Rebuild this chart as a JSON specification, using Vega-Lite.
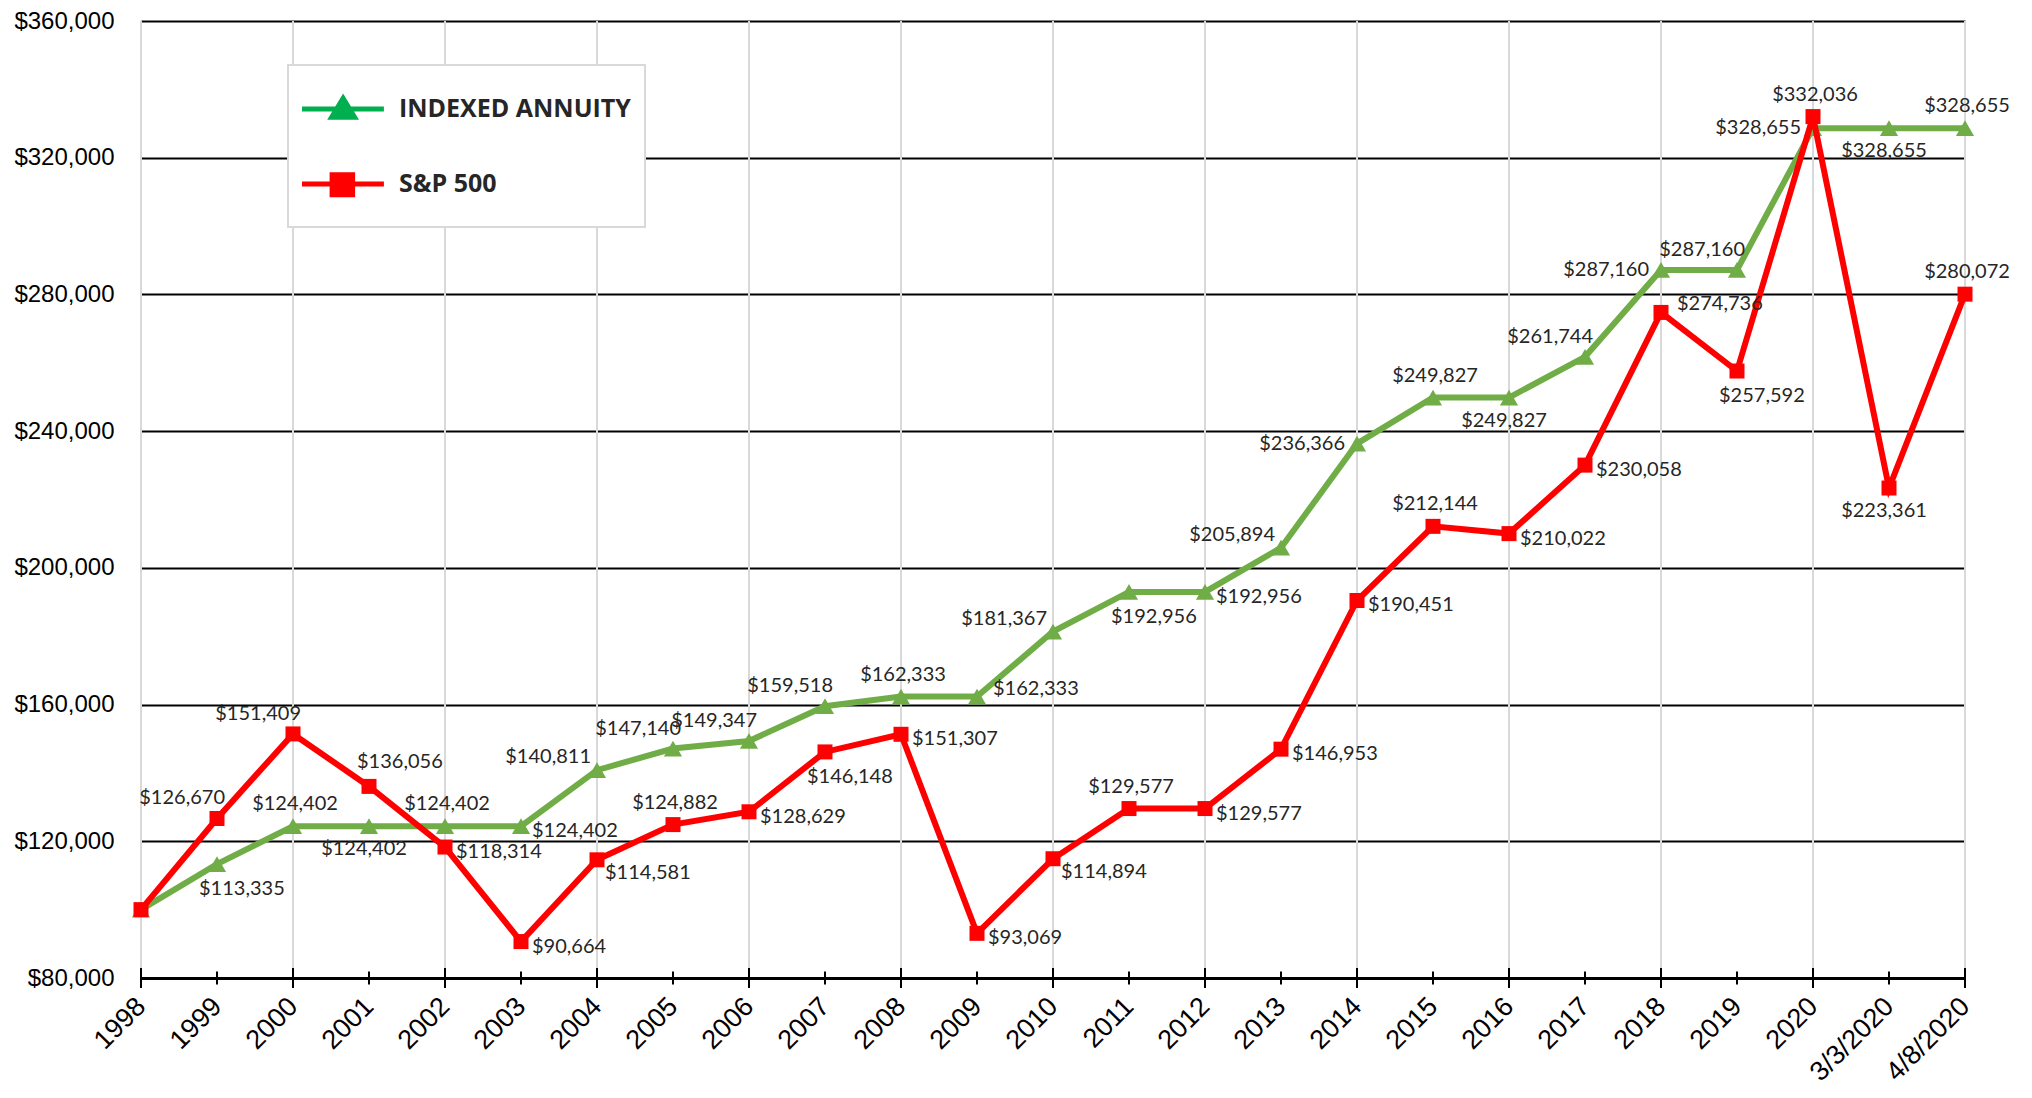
{
  "$schema": "https://vega.github.io/schema/vega-lite/v6.json",
  "width": 1824,
  "height": 957,
  "autosize": {"type": "none"},
  "padding": {"left": 141, "top": 21, "right": 67, "bottom": 120},
  "background": "white",
  "config": {"view": {"stroke": null}},
  "datasets": {
    "d": [
      {"period": "1998", "series": "INDEXED ANNUITY", "value": 100000},
      {"period": "1999", "series": "INDEXED ANNUITY", "value": 113335},
      {"period": "2000", "series": "INDEXED ANNUITY", "value": 124402},
      {"period": "2001", "series": "INDEXED ANNUITY", "value": 124402},
      {"period": "2002", "series": "INDEXED ANNUITY", "value": 124402},
      {"period": "2003", "series": "INDEXED ANNUITY", "value": 124402},
      {"period": "2004", "series": "INDEXED ANNUITY", "value": 140811},
      {"period": "2005", "series": "INDEXED ANNUITY", "value": 147140},
      {"period": "2006", "series": "INDEXED ANNUITY", "value": 149347},
      {"period": "2007", "series": "INDEXED ANNUITY", "value": 159518},
      {"period": "2008", "series": "INDEXED ANNUITY", "value": 162333},
      {"period": "2009", "series": "INDEXED ANNUITY", "value": 162333},
      {"period": "2010", "series": "INDEXED ANNUITY", "value": 181367},
      {"period": "2011", "series": "INDEXED ANNUITY", "value": 192956},
      {"period": "2012", "series": "INDEXED ANNUITY", "value": 192956},
      {"period": "2013", "series": "INDEXED ANNUITY", "value": 205894},
      {"period": "2014", "series": "INDEXED ANNUITY", "value": 236366},
      {"period": "2015", "series": "INDEXED ANNUITY", "value": 249827},
      {"period": "2016", "series": "INDEXED ANNUITY", "value": 249827},
      {"period": "2017", "series": "INDEXED ANNUITY", "value": 261744},
      {"period": "2018", "series": "INDEXED ANNUITY", "value": 287160},
      {"period": "2019", "series": "INDEXED ANNUITY", "value": 287160},
      {"period": "2020", "series": "INDEXED ANNUITY", "value": 328655},
      {"period": "3/3/2020", "series": "INDEXED ANNUITY", "value": 328655},
      {"period": "4/8/2020", "series": "INDEXED ANNUITY", "value": 328655},
      {"period": "1998", "series": "S&P 500", "value": 100000},
      {"period": "1999", "series": "S&P 500", "value": 126670},
      {"period": "2000", "series": "S&P 500", "value": 151409},
      {"period": "2001", "series": "S&P 500", "value": 136056},
      {"period": "2002", "series": "S&P 500", "value": 118314},
      {"period": "2003", "series": "S&P 500", "value": 90664},
      {"period": "2004", "series": "S&P 500", "value": 114581},
      {"period": "2005", "series": "S&P 500", "value": 124882},
      {"period": "2006", "series": "S&P 500", "value": 128629},
      {"period": "2007", "series": "S&P 500", "value": 146148},
      {"period": "2008", "series": "S&P 500", "value": 151307},
      {"period": "2009", "series": "S&P 500", "value": 93069},
      {"period": "2010", "series": "S&P 500", "value": 114894},
      {"period": "2011", "series": "S&P 500", "value": 129577},
      {"period": "2012", "series": "S&P 500", "value": 129577},
      {"period": "2013", "series": "S&P 500", "value": 146953},
      {"period": "2014", "series": "S&P 500", "value": 190451},
      {"period": "2015", "series": "S&P 500", "value": 212144},
      {"period": "2016", "series": "S&P 500", "value": 210022},
      {"period": "2017", "series": "S&P 500", "value": 230058},
      {"period": "2018", "series": "S&P 500", "value": 274736},
      {"period": "2019", "series": "S&P 500", "value": 257592},
      {"period": "2020", "series": "S&P 500", "value": 332036},
      {"period": "3/3/2020", "series": "S&P 500", "value": 223361},
      {"period": "4/8/2020", "series": "S&P 500", "value": 280072}
    ]
  },
  "data": {"name": "d"},
  "encoding": {
    "x": {
      "field": "period",
      "type": "ordinal",
      "scale": {"type": "point", "padding": 0, "domain": ["1998","1999","2000","2001","2002","2003","2004","2005","2006","2007","2008","2009","2010","2011","2012","2013","2014","2015","2016","2017","2018","2019","2020","3/3/2020","4/8/2020"]},
      "axis": {
        "title": null,
        "domain": true,
        "domainColor": "#000000",
        "domainWidth": 3,
        "ticks": false,
        "tickSize": 0,
        "labelAngle": -45,
        "labelAlign": "right",
        "labelBaseline": "middle",
        "labelPadding": 24,
        "labelFont": "Liberation Sans",
        "labelFontSize": 27,
        "labelColor": "#000000",
        "grid": false,
        "zindex": 1
      }
    },
    "y": {
      "field": "value",
      "type": "quantitative",
      "scale": {"domain": [80000, 360000], "nice": false, "zero": false},
      "axis": {
        "title": null,
        "values": [80000, 120000, 160000, 200000, 240000, 280000, 320000, 360000],
        "format": "$,.0f",
        "domain": false,
        "ticks": false,
        "labelPadding": 27,
        "labelFont": "Liberation Sans",
        "labelFontSize": 24,
        "labelColor": "#000000",
        "grid": true,
        "gridColor": "#000000",
        "gridWidth": 2,
        "zindex": 0
      }
    }
  },
  "layer": [
    {
      "transform": [{"filter": "datum.series === 'S&P 500' && indexof(['1998','2000','2002','2004','2006','2008','2010','2012','2014','2016','2018','2020','4/8/2020'], datum.period) >= 0"}],
      "mark": {"type": "rule", "color": "#d9d9d9", "strokeWidth": 2},
      "encoding": {"y": null}
    },
    {
      "transform": [{"filter": "datum.series === 'S&P 500'"}],
      "mark": {"type": "tick", "orient": "vertical", "color": "#000000", "thickness": 2, "opacity": 1},
      "encoding": {
        "y": {"datum": 80000},
        "size": {
          "condition": {"test": "indexof(['1998','2000','2002','2004','2006','2008','2010','2012','2014','2016','2018','2020','4/8/2020'], datum.period) >= 0", "value": 20},
          "value": 13
        }
      }
    },
    {
      "transform": [{"filter": "datum.series === 'INDEXED ANNUITY'"}],
      "mark": {"type": "line", "strokeWidth": 6},
      "encoding": {
        "color": {
          "field": "series",
          "type": "nominal",
          "scale": {"domain": ["INDEXED ANNUITY", "S&P 500"], "range": ["#70AD47", "#FF0000"]},
          "legend": {
            "title": " ",
            "titleOrient": "bottom",
            "titleFontSize": 16,
            "titlePadding": 0,
            "orient": "none",
            "legendX": 147,
            "legendY": 44,
            "padding": 14,
            "rowPadding": 32,
            "symbolSize": 3600,
            "symbolStrokeWidth": 0,
            "labelOffset": 37,
            "labelFont": "Open Sans",
            "labelFontWeight": "bold",
            "labelFontSize": 25,
            "labelColor": "#262626",
            "labelLimit": 500,
            "strokeColor": "#d9d9d9",
            "fillColor": "white",
            "encode": {
              "legend": {"update": {"strokeWidth": {"value": 2}}},
              "symbols": {
                "update": {
                  "shape": {"signal": "datum.value === 'S&P 500' ? 'M-1,-0.083H1.73V0.083H-1Z M-0.08,-0.39H0.77V0.44H-0.08Z' : 'M-1,-0.083H1.73V0.083H-1Z M-0.16,0.36L0.37,-0.52L0.9,0.36Z'"},
                  "fill": {"signal": "datum.value === 'S&P 500' ? '#FF0000' : '#00B050'"},
                  "stroke": {"value": "transparent"},
                  "strokeWidth": {"value": 0},
                  "opacity": {"value": 1},
                  "fillOpacity": {"value": 1},
                  "size": {"value": 3600}
                }
              }
            }
          }
        }
      }
    },
    {
      "transform": [{"filter": "datum.series === 'INDEXED ANNUITY'"}],
      "mark": {"type": "point", "shape": "triangle-up", "filled": true, "size": 330, "color": "#70AD47", "opacity": 1}
    },
    {
      "transform": [{"filter": "datum.series === 'S&P 500'"}],
      "mark": {"type": "line", "strokeWidth": 6},
      "encoding": {
        "color": {"field": "series", "type": "nominal"}
      }
    },
    {
      "transform": [{"filter": "datum.series === 'S&P 500'"}],
      "mark": {"type": "square", "size": 225, "color": "#FF0000", "opacity": 1}
    },
    {
      "transform": [{"filter": "indexof(['G2000','G2002','G2008','G2015','G4/8/2020','R2005','R2011','R2015','R2020','R4/8/2020'], (datum.series === 'S&P 500' ? 'R' : 'G') + datum.period) >= 0"}],
      "mark": {"type": "text", "align": "center", "baseline": "middle", "dx": 2, "dy": -22, "font": "Lato", "fontSize": 20, "color": "#262626"},
      "encoding": {"text": {"field": "value", "type": "quantitative", "format": "$,.0f"}}
    },
    {
      "transform": [{"filter": "indexof(['G2001','G2016','G3/3/2020','R3/3/2020'], (datum.series === 'S&P 500' ? 'R' : 'G') + datum.period) >= 0"}],
      "mark": {"type": "text", "align": "center", "baseline": "middle", "dx": -5, "dy": 23, "font": "Lato", "fontSize": 20, "color": "#262626"},
      "encoding": {"text": {"field": "value", "type": "quantitative", "format": "$,.0f"}}
    },
    {
      "transform": [{"filter": "indexof(['G1999','G2011','R2007','R2019'], (datum.series === 'S&P 500' ? 'R' : 'G') + datum.period) >= 0"}],
      "mark": {"type": "text", "align": "left", "baseline": "middle", "dx": -18, "dy": 25, "font": "Lato", "fontSize": 20, "color": "#262626"},
      "encoding": {"text": {"field": "value", "type": "quantitative", "format": "$,.0f"}}
    },
    {
      "transform": [{"filter": "indexof(['G2003','G2012','R2002','R2003','R2006','R2008','R2009','R2012','R2013','R2014','R2016','R2017'], (datum.series === 'S&P 500' ? 'R' : 'G') + datum.period) >= 0"}],
      "mark": {"type": "text", "align": "left", "baseline": "middle", "dx": 11, "dy": 5, "font": "Lato", "fontSize": 20, "color": "#262626"},
      "encoding": {"text": {"field": "value", "type": "quantitative", "format": "$,.0f"}}
    },
    {
      "transform": [{"filter": "indexof(['R2004','R2010'], (datum.series === 'S&P 500' ? 'R' : 'G') + datum.period) >= 0"}],
      "mark": {"type": "text", "align": "left", "baseline": "middle", "dx": 8, "dy": 13, "font": "Lato", "fontSize": 20, "color": "#262626"},
      "encoding": {"text": {"field": "value", "type": "quantitative", "format": "$,.0f"}}
    },
    {
      "transform": [{"filter": "indexof(['G2009','R2018'], (datum.series === 'S&P 500' ? 'R' : 'G') + datum.period) >= 0"}],
      "mark": {"type": "text", "align": "left", "baseline": "middle", "dx": 16, "dy": -8, "font": "Lato", "fontSize": 20, "color": "#262626"},
      "encoding": {"text": {"field": "value", "type": "quantitative", "format": "$,.0f"}}
    },
    {
      "transform": [{"filter": "indexof(['G2004','G2010','G2013'], (datum.series === 'S&P 500' ? 'R' : 'G') + datum.period) >= 0"}],
      "mark": {"type": "text", "align": "right", "baseline": "middle", "dx": -6, "dy": -13, "font": "Lato", "fontSize": 20, "color": "#262626"},
      "encoding": {"text": {"field": "value", "type": "quantitative", "format": "$,.0f"}}
    },
    {
      "transform": [{"filter": "indexof(['G2014','G2018','G2020'], (datum.series === 'S&P 500' ? 'R' : 'G') + datum.period) >= 0"}],
      "mark": {"type": "text", "align": "right", "baseline": "middle", "dx": -12, "dy": 0, "font": "Lato", "fontSize": 20, "color": "#262626"},
      "encoding": {"text": {"field": "value", "type": "quantitative", "format": "$,.0f"}}
    },
    {
      "transform": [{"filter": "indexof(['G2005','G2006','G2007','G2017','G2019','R1999','R2000'], (datum.series === 'S&P 500' ? 'R' : 'G') + datum.period) >= 0"}],
      "mark": {"type": "text", "align": "right", "baseline": "middle", "dx": 8, "dy": -20, "font": "Lato", "fontSize": 20, "color": "#262626"},
      "encoding": {"text": {"field": "value", "type": "quantitative", "format": "$,.0f"}}
    },
    {
      "transform": [{"filter": "indexof(['R2001'], (datum.series === 'S&P 500' ? 'R' : 'G') + datum.period) >= 0"}],
      "mark": {"type": "text", "align": "left", "baseline": "middle", "dx": -12, "dy": -24, "font": "Lato", "fontSize": 20, "color": "#262626"},
      "encoding": {"text": {"field": "value", "type": "quantitative", "format": "$,.0f"}}
    }
  ]
}
